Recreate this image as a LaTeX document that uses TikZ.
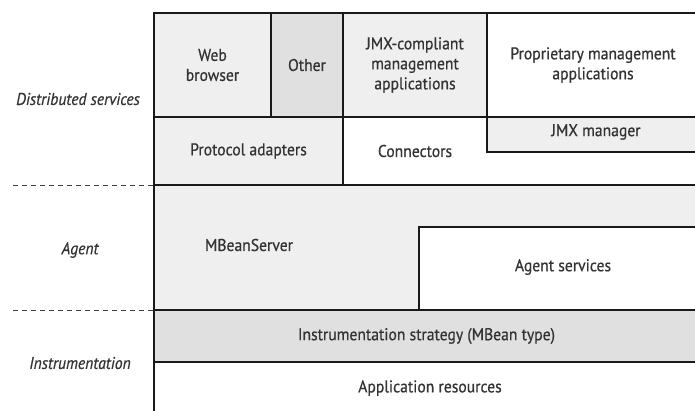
\documentclass[tikz,border=0pt]{standalone}
\usepackage{fontspec}
\setmainfont[FakeStretch=0.92, FakeBold=0.6]{PT Sans}
\usetikzlibrary{positioning}

\definecolor{lightfill}{HTML}{EFEFEF}
\definecolor{midfill}{HTML}{E0E0E0}

\begin{document}
\begin{tikzpicture}[
        x=1pt, y=-1pt,
        every node/.style={font=\fontsize{17}{20}\selectfont, text=black!80},
        layer/.style={draw=black!90, line width=1.8pt, anchor=north west,
                      inner sep=0pt, outer sep=0pt, align=center},
        side/.style={font=\fontsize{17}{20}\selectfont\itshape, text=black!80},
        sep/.style={dashed, line width=1pt, dash pattern=on 5pt off 4pt, draw=black!75},
        ]
    \useasboundingbox (0,0) rectangle (695,410);
    % top row: clients
    \node[layer, fill=lightfill, minimum width=117pt, minimum height=104pt] (web) at (154,13) {Web\\browser};
    \node[layer, fill=midfill, minimum width=72pt, minimum height=104pt] (other) at (271,13) {Other};
    \node[layer, fill=lightfill, minimum width=144pt, minimum height=104pt] (jmxc) at (343,13) {JMX-compliant\\management\\applications};
    \node[layer, fill=white, minimum width=212pt, minimum height=104pt] (prop) at (487,13) {Proprietary management\\applications};
    % second row
    \node[layer, fill=lightfill, minimum width=189pt, minimum height=68pt] (proto) at (154,117) {Protocol adapters};
    \node[layer, fill=white, minimum width=356pt, minimum height=68pt] (conn) at (343,117) {};
    \node (connlbl) at (415,151) {Connectors};
    \node[layer, fill=lightfill, minimum width=212pt, minimum height=35pt] (jmxmgr) at (487,117) {};
    \node (mgrlbl) at (596,132) {JMX manager};
    % agent level
    \node[layer, fill=lightfill, minimum width=545pt, minimum height=125pt] (mbean) at (154,185) {};
    \node (mbeanlbl) at (249,245) {MBeanServer};
    \node[layer, fill=white, minimum width=280pt, minimum height=83pt] (agsvc) at (419,227) {};
    \node (agsvclbl) at (563,267) {Agent services};
    % instrumentation level
    \node[layer, fill=midfill, minimum width=545pt, minimum height=52pt] (instr) at (154,310) {Instrumentation strategy (MBean type)};
    \node[layer, fill=white, minimum width=545pt, minimum height=52pt] (appres) at (154,362) {};
    \node (applbl) at (430,388) {Application resources};
    % level names
    \node[side] (dist) at (78,99) {Distributed services};
    \node[side] (agent) at (80,250) {Agent};
    \node[side] (instrlbl) at (80,363) {Instrumentation};
    \coordinate (d1) at (13,185);
    \coordinate (d2) at (13,310);
    \draw[sep] (d1) -- (mbean.north west);
    \draw[sep] (d2) -- (instr.north west);
\end{tikzpicture}
\end{document}
